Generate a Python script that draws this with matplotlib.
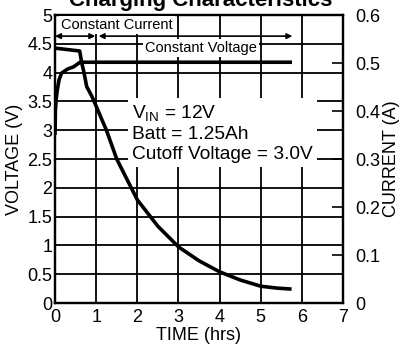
import numpy as np
import matplotlib
matplotlib.use('Agg')
import matplotlib.pyplot as plt

plt.rcParams['font.family'] = ['Liberation Sans', 'DejaVu Sans']
plt.rcParams['mathtext.default'] = 'regular'

# voltage curve (left axis)
t_volt = [0, 0.01, 0.03, 0.056, 0.1, 0.16, 0.3, 0.45, 0.61, 1.0, 3.0, 5.76]
volt = [2.92, 3.35, 3.55, 3.70, 3.88, 3.99, 4.06, 4.10, 4.18, 4.18, 4.18, 4.18]

# current curve (right axis)
t_curr = [0, 0.3, 0.6, 0.65, 0.7, 0.77, 0.9, 1.0, 1.25, 1.5, 2.0, 2.5, 3.0,
          3.5, 4.0, 4.5, 5.0, 5.4, 5.75]
curr = [0.531, 0.528, 0.525, 0.50, 0.482, 0.451, 0.43, 0.41, 0.36, 0.30,
        0.215, 0.16, 0.117, 0.088, 0.065, 0.048, 0.035, 0.031, 0.029]

x_ticks = [0, 1, 2, 3, 4, 5, 6, 7]
v_ticks = [0, 0.5, 1, 1.5, 2, 2.5, 3, 3.5, 4, 4.5, 5]
v_labels = ['0', '0.5', '1', '1.5', '2', '2.5', '3', '3.5', '4', '4.5', '5']
i_ticks = [0, 0.1, 0.2, 0.3, 0.4, 0.5, 0.6]
i_labels = ['0', '0.1', '0.2', '0.3', '0.4', '0.5', '0.6']

fig = plt.figure(figsize=(4.01, 3.45), dpi=100)
ax = fig.add_axes([55/401, 1-303/345, 288/401, 288/345])
ax2 = ax.twinx()

ax.set_xlim(0, 7)
ax.set_ylim(0, 5)
ax2.set_ylim(0, 0.6)

ax.set_xticks(x_ticks)
ax.set_xticklabels([str(v) for v in x_ticks])
ax.set_yticks(v_ticks)
ax.set_yticklabels(v_labels)
ax2.set_yticks(i_ticks)
ax2.set_yticklabels(i_labels)

ax.grid(True, color='black', lw=1.3)
ax.set_axisbelow(True)
ax.tick_params(axis='both', direction='in', labelsize=13, length=0, pad=2)
ax.tick_params(axis='x', pad=4)
ax2.tick_params(axis='y', direction='in', labelsize=13, length=8, width=1.2, pad=9)
for a in (ax, ax2):
    for s in a.spines.values():
        s.set_linewidth(1.6)

ax.plot(t_volt, volt, color='black', lw=2.6, solid_capstyle='butt', zorder=3)
ax2.plot(t_curr, curr, color='black', lw=2.6, solid_capstyle='butt', zorder=3)

ax.set_xlabel('TIME (hrs)', fontsize=13, labelpad=1)
ax.set_ylabel('VOLTAGE (V)', fontsize=13, labelpad=3)
ax2.set_ylabel('CURRENT (A)', fontsize=13, labelpad=2)

fig.text(0.5, 1-6/345, 'Charging Characteristics', ha='center', va='baseline',
         fontsize=16, fontweight='bold')

box = dict(facecolor='white', edgecolor='none', pad=1.5)
ax2.text(1.51, 0.58, 'Constant Current', ha='center', va='center', fontsize=10.5,
         bbox=box, zorder=4)
ax2.text(3.55, 0.532, 'Constant Voltage', ha='center', va='center', fontsize=10.5,
         bbox=box, zorder=4)
arrow = dict(arrowstyle='<|-|>', color='black', lw=1.2, mutation_scale=8,
             shrinkA=0, shrinkB=0)
ax2.annotate('', xy=(0, 0.556), xytext=(0.98, 0.556), arrowprops=arrow, zorder=5)
ax2.annotate('', xy=(1.06, 0.556), xytext=(5.77, 0.556), arrowprops=arrow, zorder=5)

ax2.text(1.87, 0.417, '$V_{IN}$ = 12V\nBatt = 1.25Ah\nCutoff Voltage = 3.0V',
         ha='left', va='top', fontsize=13.8, linespacing=1.22,
         bbox=dict(facecolor='white', edgecolor='none', pad=3), zorder=4)

fig.savefig('out.png', dpi=100)
